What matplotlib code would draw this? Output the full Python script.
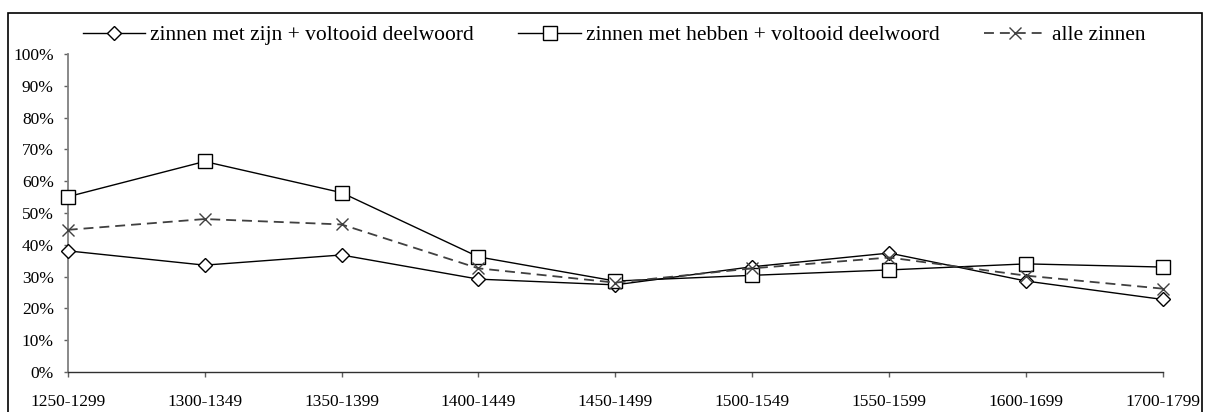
import numpy as np
import matplotlib
matplotlib.use("Agg")
import matplotlib.pyplot as plt
from matplotlib.patches import Rectangle
from matplotlib.ticker import PercentFormatter

periods = ["1250-1299", "1300-1349", "1350-1399", "1400-1449", "1450-1499",
           "1500-1549", "1550-1599", "1600-1699", "1700-1799"]

zijn = [38.1, 33.6, 36.8, 29.2, 27.4, 33.1, 37.4, 28.6, 22.8]
hebben = [55.1, 66.2, 56.4, 36.2, 28.6, 30.4, 32.1, 34.0, 33.0]
alle = [44.7, 48.1, 46.4, 32.6, 28.1, 32.6, 36.0, 30.3, 26.2]

plt.rcParams['font.family'] = ['Liberation Serif', 'DejaVu Serif']

W, H = 1207, 412
fig = plt.figure(figsize=(W / 100, H / 100), dpi=100)
ax = fig.add_axes([67.7 / W, 1 - 372 / H, (1163 - 67.7) / W, (372 - 54) / H])

x = np.arange(len(periods))
l1, = ax.plot(x, zijn, color='black', lw=1.0, marker='D', ms=7.1, clip_on=False, zorder=3,
              mfc='white', mec='black', mew=1.0, label='zinnen met zijn + voltooid deelwoord')
l2, = ax.plot(x, hebben, color='black', lw=1.0, marker='s', ms=9.6, clip_on=False, zorder=3,
              mfc='white', mec='black', mew=1.0, label='zinnen met hebben + voltooid deelwoord')
l3, = ax.plot(x, alle, color='#404040', lw=1.3, ls=(0, (5.5, 3.3)), marker='x', ms=9,
              clip_on=False, zorder=3, mec='#404040', mew=1.0, label='alle zinnen')

ax.set_xlim(0, len(periods) - 1)
ax.set_ylim(0, 100)
ax.set_yticks(np.arange(0, 101, 10))
ax.yaxis.set_major_formatter(PercentFormatter(decimals=0))
ax.set_xticks(x)
ax.set_xticklabels(periods)

for s in ['top', 'right']:
    ax.spines[s].set_visible(False)
ax.spines['left'].set_color('#808080')
ax.spines['left'].set_linewidth(1.3)
ax.spines['bottom'].set_color('#303030')
ax.spines['bottom'].set_linewidth(1.0)
ax.tick_params(axis='y', direction='out', length=3, width=1, color='#606060',
               labelsize=12.5, pad=7)
ax.tick_params(axis='x', direction='out', length=3.5, width=1, color='#606060',
               labelsize=12.5, pad=12)
ax.patch.set_alpha(0)

fig.legend(handles=[l1, l2, l3], loc='center', bbox_to_anchor=(614 / W, 1 - 35 / H),
           ncol=3, frameon=False, fontsize=15.5, handlelength=2.9,
           handletextpad=0.25, columnspacing=2.05, borderpad=0)

fig.patches.append(Rectangle((8 / W, -0.05), (1202 - 8) / W, 1 - 12.7 / H + 0.05,
                             transform=fig.transFigure, fill=False,
                             edgecolor='black', lw=1.2))

fig.savefig('out.png', dpi=100)
